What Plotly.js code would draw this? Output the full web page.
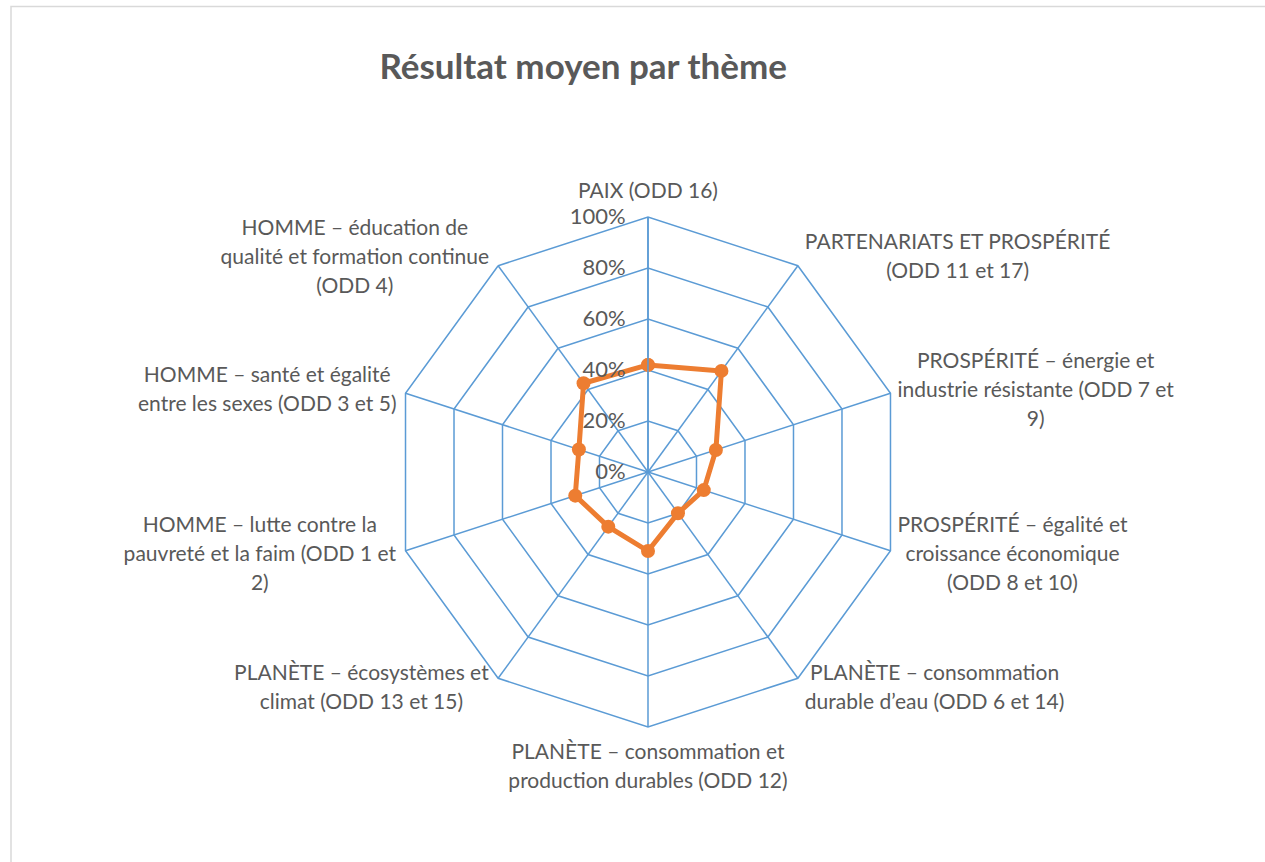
<!DOCTYPE html>
<html>
<head>
<meta charset="utf-8">
<script src="https://cdn.plot.ly/plotly-3.0.1.min.js"></script>
<style>html,body{margin:0;padding:0;background:#fff;}#chart{width:1265px;height:862px;}</style>
</head>
<body>
<div id="chart"></div>
<script>
const categories = [
  "PAIX (ODD 16)",
  "PARTENARIATS ET PROSPÉRITÉ<br>(ODD 11 et 17)",
  "PROSPÉRITÉ – énergie et<br>industrie résistante (ODD 7 et<br>9)",
  "PROSPÉRITÉ – égalité et<br>croissance économique<br>(ODD 8 et 10)",
  "PLANÈTE – consommation<br>durable d’eau (ODD 6 et 14)",
  "PLANÈTE – consommation et<br>production durables (ODD 12)",
  "PLANÈTE – écosystèmes et<br>climat (ODD 13 et 15)",
  "HOMME – lutte contre la<br>pauvreté et la faim (ODD 1 et<br>2)",
  "HOMME – santé et égalité<br>entre les sexes (ODD 3 et 5)",
  "HOMME – éducation de<br>qualité et formation continue<br>(ODD 4)"
];
const values = [0.42, 0.49, 0.28, 0.23, 0.20, 0.31, 0.265, 0.30, 0.285, 0.43];
const radialTicks = [0, 0.2, 0.4, 0.6, 0.8, 1.0];
const titleText = "Résultat moyen par thème";

const blue = "#5B9BD5";
const grey = "#595959";
const font = "Lato, 'Open Sans', 'Liberation Sans', sans-serif";

const trace = {
  type: "scatterpolar",
  r: values.concat([values[0]]),
  theta: categories.concat([categories[0]]),
  mode: "lines+markers",
  line: {color: "#ED7D31", width: 5},
  marker: {color: "#ED7D31", size: 14},
  hoverinfo: "skip",
  showlegend: false
};

const layout = {
  width: 1265, height: 862, autosize: false,
  margin: {l: 0, r: 0, t: 0, b: 0},
  paper_bgcolor: "#fff",
  font: {family: font, color: grey, size: 21},
  title: {text: "<b>" + titleText + "</b>", x: 0.461, xanchor: "center", y: 0.922, yanchor: "middle",
          font: {family: font, size: 35, color: grey}},
  polar: {
    domain: {x: [0.3107, 0.7138], y: [0.1566, 0.7483]},
    bgcolor: "#fff",
    gridshape: "linear",
    angularaxis: {
      direction: "clockwise", rotation: 90,
      showline: true, linecolor: blue, linewidth: 1.5,
      showgrid: true, gridcolor: blue, gridwidth: 1.5,
      ticks: "", tickfont: {family: font, size: 21, color: grey}
    },
    radialaxis: {
      range: [0, 1], tickvals: radialTicks, tickformat: ".0%",
      angle: 90, side: "counterclockwise", tickangle: 90,
      showline: true, linecolor: blue, linewidth: 1.5,
      showgrid: true, gridcolor: blue, gridwidth: 1.5,
      ticks: "outside", ticklen: 14, tickcolor: "rgba(0,0,0,0)",
      tickfont: {family: font, size: 22, color: grey}
    }
  },
  shapes: [{type: "rect", xref: "paper", yref: "paper", x0: 0.0087, x1: 1.01, y0: -0.01, y1: 0.9925,
            line: {color: "#D9D9D9", width: 1.5}, fillcolor: "rgba(0,0,0,0)"}]
};

// Excel-style label placement: centred lines, block centred on the polygon vertex
function placeLabels(gd) {
  const sp = gd._fullLayout.polar._subplot;
  const fl = gd._fullLayout;
  const dom = fl.polar.domain;
  const R = sp && sp.radius ? sp.radius : Math.min(fl.width * (dom.x[1] - dom.x[0]), fl.height * (dom.y[1] - dom.y[0])) / 2;
  const cx = sp && sp.cx !== undefined ? sp.cx : fl.width * (dom.x[0] + dom.x[1]) / 2;
  const cy = sp && sp.cy !== undefined ? sp.cy : fl.height * (1 - (dom.y[0] + dom.y[1]) / 2);
  const svgBox = gd.querySelector(".main-svg").getBoundingClientRect();
  const texts = Array.from(gd.querySelectorAll(".angular-axis text, .angularaxis text, g.angularaxistick text"));
  const seen = new Set();
  texts.forEach(function (t) {
    if (seen.has(t)) return; seen.add(t);
    const plain = t.textContent;
    const idx = categories.findIndex(function (c) { return c.replace(/<br>/g, "") === plain; });
    if (idx < 0) return;
    const lines = t.querySelectorAll("tspan.line");
    lines.forEach(function (ln, i) { if (i > 0) ln.setAttribute("dy", (i * 1.38) + "em"); });
    if (lines.length > 1) {
      const bb0 = t.getBBox();
      const mid = bb0.x + bb0.width / 2;
      t.setAttribute("text-anchor", "middle");
      lines.forEach(function (ln) { ln.setAttribute("x", mid); });
    }
    const th = idx * 2 * Math.PI / categories.length;
    const s = Math.sin(th), c = Math.cos(th);
    const vx = cx + R * s, vy = cy - R * c;
    const b = t.getBoundingClientRect();
    const bl = b.left - svgBox.left, bt = b.top - svgBox.top;
    let dx = 0, dy = 0;
    if (Math.abs(s) < 0.1) {
      dx = vx - (bl + b.width / 2);
      dy = c > 0 ? (vy - 15) - (bt + b.height) : (vy + 11) - bt;
    } else {
      dx = s > 0 ? (vx + 7) - bl : (vx - 9) - (bl + b.width);
      dy = (vy - 11 * c) - (bt + b.height / 2) - 1.5;
    }
    const prev = t.getAttribute("transform") || "";
    t.setAttribute("transform", "translate(" + dx + "," + dy + ") " + prev);
  });
}

const gd = document.getElementById("chart");
Plotly.newPlot(gd, [trace], layout, {displayModeBar: false, staticPlot: true}).then(function () { placeLabels(gd); });
</script>
</body>
</html>
